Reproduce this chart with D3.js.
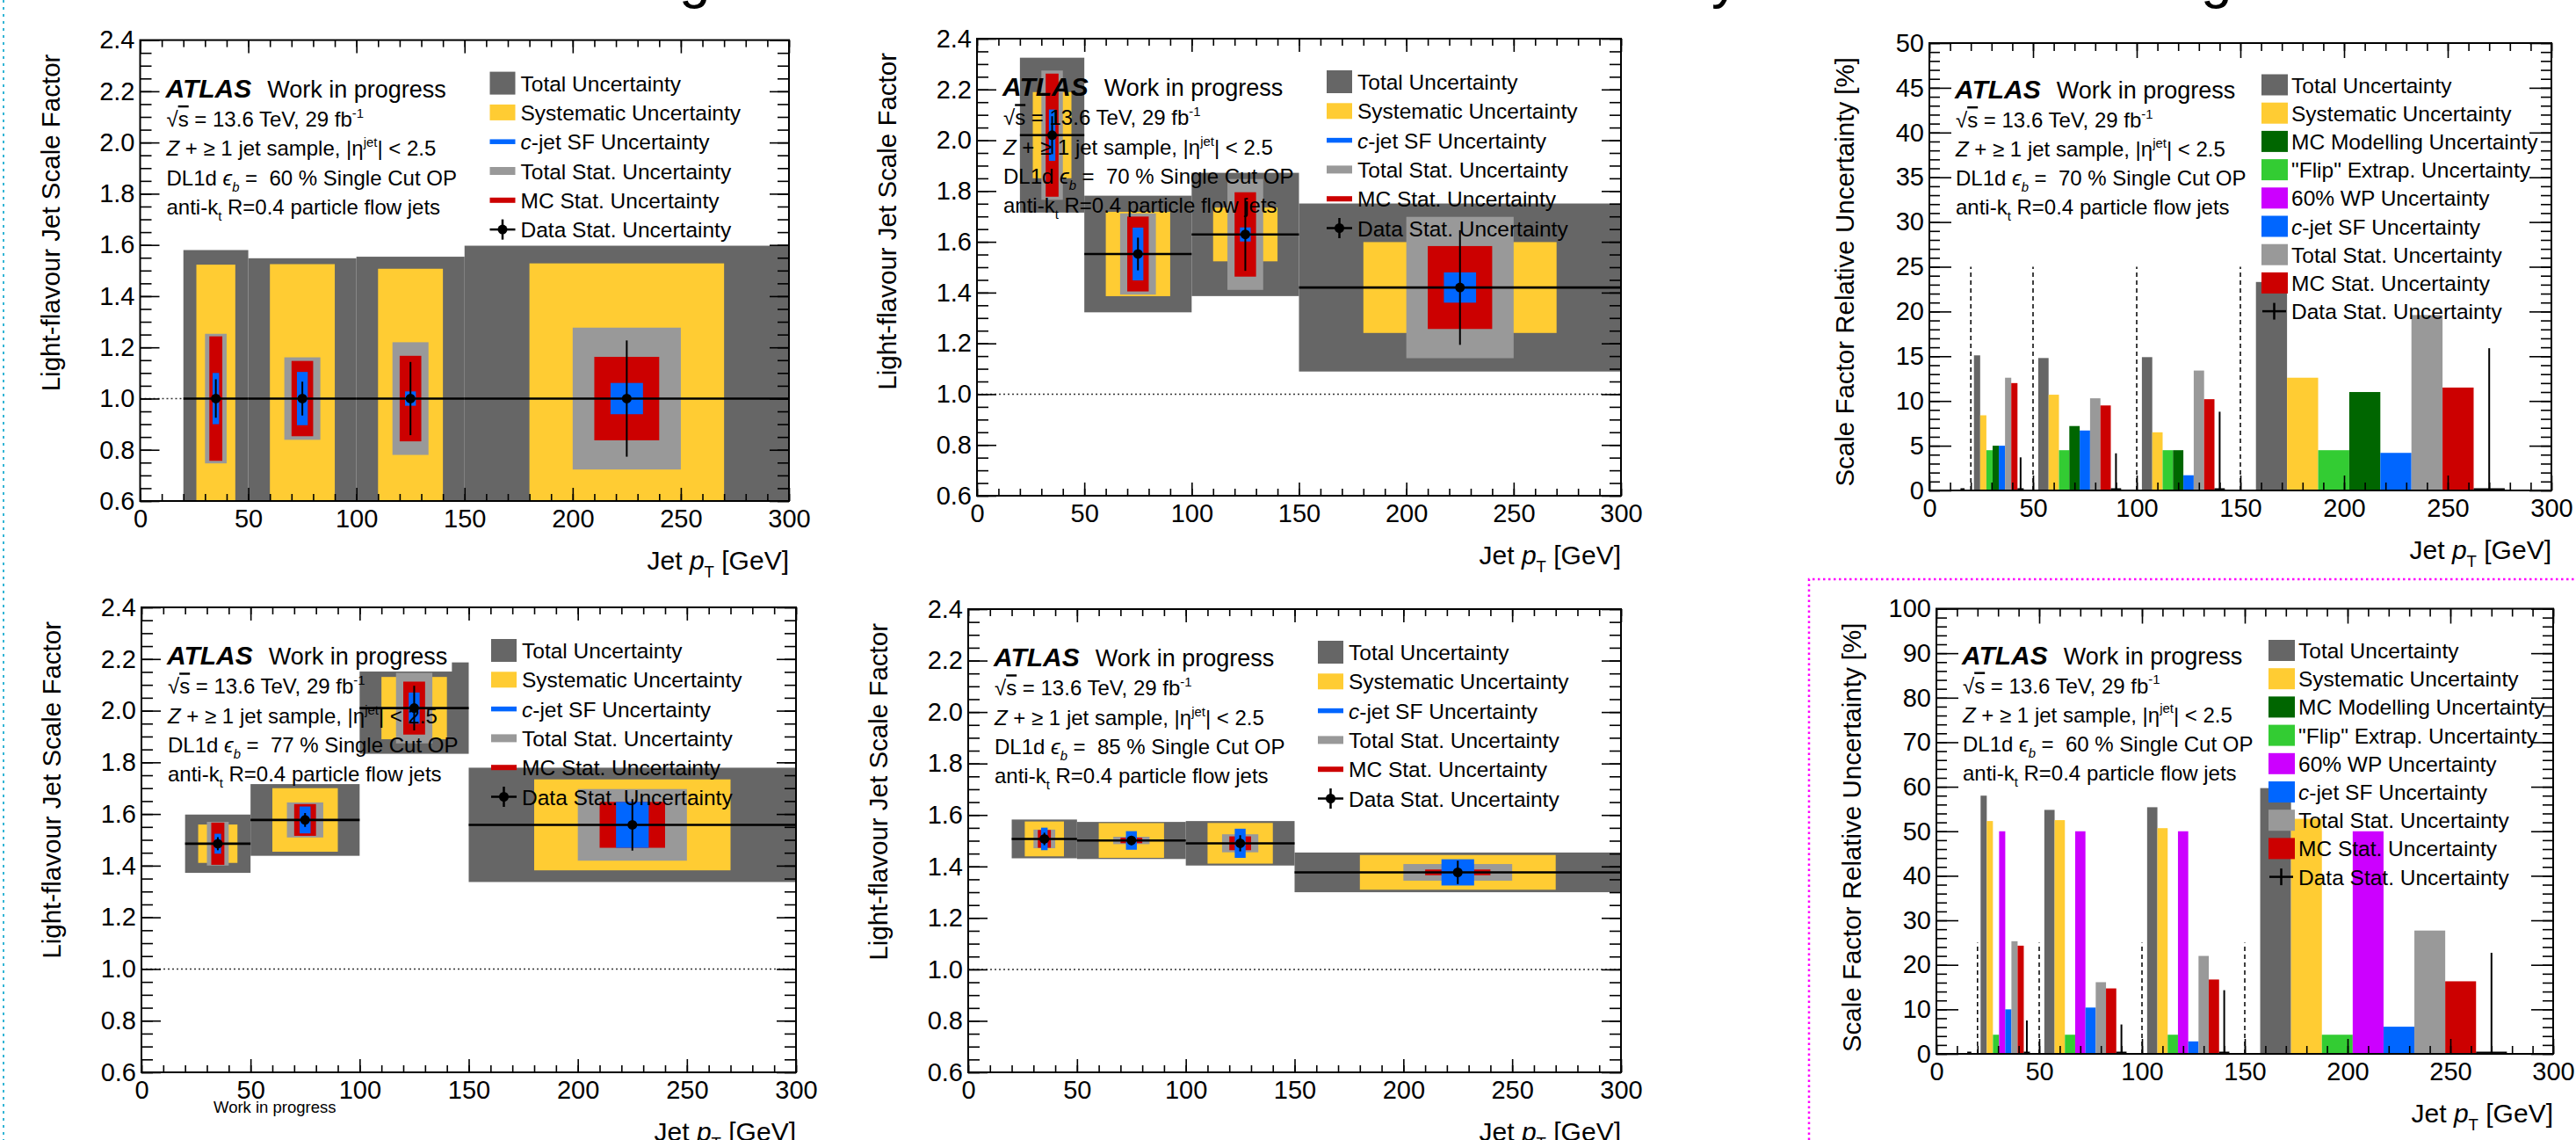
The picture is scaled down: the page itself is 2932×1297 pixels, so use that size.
<!DOCTYPE html>
<html>
<head>
<meta charset="utf-8">
<script src="https://cdn.jsdelivr.net/npm/d3@7"></script>
<style>
  html, body { margin: 0; padding: 0; background: #fff; }
  svg text { font-family: "Liberation Sans", Arial, Helvetica, sans-serif; fill: #000; }
</style>
</head>
<body>
<svg id="chart" width="2932" height="1297"></svg>
<script>
// jet pT bins [GeV]
const binEdges = [0, 20, 50, 100, 150, 300];

// light-flavour scale factors per b-tagging working point (first bin empty)
const sf60 = [null, 1.0, 1.0, 1.0, 1.0];
const sf70 = [null, 2.02, 1.552, 1.629, 1.42];
const sf77 = [null, 1.485, 1.577, 2.01, 1.558];
const sf85 = [null, 1.507, 1.501, 1.49, 1.377];

// relative uncertainties [%], 60% WP
const total60  = [0, 58.0, 54.8, 55.4, 59.7];
const syst60   = [0, 52.3, 52.5, 50.7, 52.8];
const model60  = [0, 0, 0, 0, 0];
const flip60   = [0, 4.3, 4.3, 4.3, 4.3];
const wpUnc60  = [0, 50.0, 50.0, 50.0, 50.0];
const cjet60   = [0, 10.0, 10.4, 2.8, 6.1];
const stat60   = [0, 25.3, 16.1, 22.0, 27.7];
const mcstat60 = [0, 24.3, 14.7, 16.7, 16.3];
const data60   = [0, 7.5, 6.6, 14.3, 22.7];

// relative uncertainties [%], 70% WP
const total70  = [0, 15.1, 14.8, 14.9, 23.3];
const syst70   = [0, 8.4, 10.7, 6.5, 12.6];
const model70  = [0, 5.0, 7.2, 4.5, 11.0];
const flip70   = [0, 4.5, 4.5, 4.5, 4.5];
const wpUnc70  = [0, 0, 0, 0, 0];
const cjet70   = [0, 5.0, 6.7, 1.7, 4.2];
const stat70   = [0, 12.6, 10.3, 13.4, 19.6];
const mcstat70 = [0, 12.0, 9.5, 10.2, 11.5];
const data70   = [0, 3.7, 4.15, 8.8, 15.9];

// relative uncertainties [%], 77% WP
const total77  = [0, 7.6, 8.8, 8.8, 14.2];
const syst77   = [0, 5.0, 7.8, 6.0, 11.3];
const cjet77   = [0, 2.6, 3.3, 3.0, 5.7];
const stat77   = [0, 5.7, 4.3, 6.8, 8.9];
const mcstat77 = [0, 5.5, 3.9, 5.1, 5.7];
const data77   = [0, 1.7, 1.7, 4.3, 6.4];

// relative uncertainties [%], 85% WP
const total85  = [0, 5.0, 4.8, 5.8, 5.6];
const syst85   = [0, 4.5, 4.5, 5.3, 4.9];
const cjet85   = [0, 2.9, 2.4, 3.8, 3.7];
const stat85   = [0, 2.4, 0.95, 2.35, 2.35];
const mcstat85 = [0, 2.3, 0.7, 1.8, 0.8];
const data85   = [0, 1.6, 1.2, 2.1, 3.3];

const xTicksMajor = [0, 50, 100, 150, 200, 250, 300];

const cTotal = "#666666", cSyst = "#ffcc33", cModel = "#006600", cFlip = "#33cc33",
      cWP = "#cc00ff", cCjet = "#0066ff", cStat = "#999999", cMC = "#cc0000";

const svg = d3.select("#chart");
svg.append("rect").attr("width", 2932).attr("height", 1297).attr("fill", "#fff");

// text with sub/superscripts
function rich(g, x, y, segs, size, anchor) {
  const t = g.append("text").attr("x", x).attr("y", y).attr("font-size", size)
    .attr("text-anchor", anchor || "start").style("white-space", "pre");
  let shift = 0;
  segs.forEach(s => {
    if (typeof s === "string") s = {t: s};
    let sh = 0, fs = size;
    if (s.sup) { sh = -0.42 * size; fs = 0.62 * size; }
    if (s.sub) { sh = 0.3 * size; fs = 0.62 * size; }
    const ts = t.append("tspan").text(s.t).attr("dy", sh - shift).attr("font-size", fs);
    shift = sh;
    if (s.i) ts.attr("font-style", "italic");
    if (s.over) ts.style("text-decoration", "overline");
  });
  return t;
}

function axes(g, p, x, y, yMajor, yMinor, fmt, tl) {
  const style = sel => {
    sel.attr("font-family", null).attr("font-size", 29);
    sel.selectAll("line").attr("stroke", "#000").attr("stroke-width", 1.6);
    sel.select(".domain").remove();
  };
  const xMinor = d3.range(0, 301, 10);
  g.append("g").attr("transform", `translate(0,${p.y1})`)
    .call(d3.axisBottom(x).tickValues(xMinor).tickSize(-tl.xm).tickFormat("")).call(style);
  g.append("g").attr("transform", `translate(0,${p.y1})`)
    .call(d3.axisBottom(x).tickValues(xTicksMajor).tickSize(-tl.xM).tickPadding(9)).call(style);
  g.append("g").attr("transform", `translate(0,${p.y0})`)
    .call(d3.axisTop(x).tickValues(xMinor).tickSize(-tl.xm).tickFormat("")).call(style);
  g.append("g").attr("transform", `translate(0,${p.y0})`)
    .call(d3.axisTop(x).tickValues(xTicksMajor).tickSize(-tl.xM).tickFormat("")).call(style);
  g.append("g").attr("transform", `translate(${p.x0},0)`)
    .call(d3.axisLeft(y).tickValues(yMinor).tickSize(-tl.ym).tickFormat("")).call(style);
  g.append("g").attr("transform", `translate(${p.x0},0)`)
    .call(d3.axisLeft(y).tickValues(yMajor).tickSize(-tl.yM).tickPadding(6).tickFormat(fmt)).call(style);
  g.append("g").attr("transform", `translate(${p.x1},0)`)
    .call(d3.axisRight(y).tickValues(yMinor).tickSize(-tl.ym).tickFormat("")).call(style);
  g.append("g").attr("transform", `translate(${p.x1},0)`)
    .call(d3.axisRight(y).tickValues(yMajor).tickSize(-tl.yM).tickFormat("")).call(style);
  g.append("rect").attr("x", p.x0).attr("y", p.y0).attr("width", p.x1 - p.x0).attr("height", p.y1 - p.y0)
    .attr("fill", "none").attr("stroke", "#000").attr("stroke-width", 2);
}

function infoText(g, p, wp, top, step) {
  const ax = p.x0 + 29, ay = p.y0 + top;
  const at = g.append("text").attr("x", ax).attr("y", ay).attr("font-size", 30)
    .attr("font-weight", "bold").attr("font-style", "italic").text("ATLAS");
  const wx = ax + at.node().getComputedTextLength() + 18;
  const patch = g.append("rect").attr("fill", "#fff");
  const wt = g.append("text").attr("x", wx).attr("y", ay).attr("font-size", 27).text("Work in progress");
  const ww = wt.node().getComputedTextLength();
  patch.attr("x", wx - 3).attr("y", ay - 27).attr("width", ww + 8).attr("height", 35);
  const lines = [
    ["√", {t: "s", over: true}, " = 13.6 TeV, 29 fb", {t: "-1", sup: true}],
    [{t: "Z", i: true}, " + ≥ 1 jet sample, |η", {t: "jet", sup: true}, "| < 2.5"],
    ["DL1d ", {t: "ϵ", i: true}, {t: "b", sub: true, i: true}, " =  " + wp + " % Single Cut OP"],
    ["anti-k", {t: "t", sub: true}, " R=0.4 particle flow jets"]
  ];
  lines.forEach((l, k) => rich(g, ax + 1, ay + step * (k + 1), l, 24));
}

function titles(g, p, yTitle, off) {
  rich(g, p.x1, p.y1 + 78, ["Jet ", {t: "p", i: true}, {t: "T", sub: true}, " [GeV]"], 30, "end");
  g.append("text").attr("transform", `translate(${p.x0 - off},${p.y0 + 16}) rotate(-90)`)
    .attr("text-anchor", "end").attr("font-size", 29.5).text(yTitle);
}

function drawSF(p) {
  const g = svg.append("g");
  const x = d3.scaleLinear().domain([0, 300]).range([p.x0, p.x1]);
  const y = d3.scaleLinear().domain([0.6, 2.4]).range([p.y1, p.y0]);
  svg.append("clipPath").attr("id", "clip" + p.id).append("rect")
    .attr("x", p.x0).attr("y", p.y0).attr("width", p.x1 - p.x0).attr("height", p.y1 - p.y0);
  const plot = g.append("g").attr("clip-path", `url(#clip${p.id})`);

  plot.append("line").attr("x1", x(0)).attr("x2", x(300)).attr("y1", y(1)).attr("y2", y(1))
    .attr("stroke", "#333").attr("stroke-width", 1.5).attr("stroke-dasharray", "2,3");

  const bins = d3.range(binEdges.length - 1).map(i => ({
    lo: binEdges[i], hi: binEdges[i + 1], sf: p.sf[i],
    total: p.rel.total[i], syst: p.rel.syst[i], stat: p.rel.stat[i],
    mcstat: p.rel.mcstat[i], cjet: p.rel.cjet[i], data: p.rel.data[i]
  })).filter(b => b.sf != null);

  const layers = [
    {key: "total", half: 0.5, color: cTotal},
    {key: "syst", half: 0.3, color: cSyst},
    {key: "stat", half: 1 / 6, color: cStat},
    {key: "mcstat", half: 0.1, color: cMC},
    {key: "cjet", half: 0.05, color: cCjet}
  ];
  layers.forEach(L => {
    plot.selectAll(null).data(bins).enter().append("rect")
      .attr("x", b => x((b.lo + b.hi) / 2 - L.half * (b.hi - b.lo)))
      .attr("width", b => x((b.lo + b.hi) / 2 + L.half * (b.hi - b.lo)) - x((b.lo + b.hi) / 2 - L.half * (b.hi - b.lo)))
      .attr("y", b => y(b.sf * (1 + b[L.key] / 100)))
      .attr("height", b => y(b.sf * (1 - b[L.key] / 100)) - y(b.sf * (1 + b[L.key] / 100)))
      .attr("fill", L.color);
  });
  // data points with stat. error
  plot.selectAll(null).data(bins).enter().append("line")
    .attr("x1", b => x(b.lo)).attr("x2", b => x(b.hi))
    .attr("y1", b => y(b.sf)).attr("y2", b => y(b.sf))
    .attr("stroke", "#000").attr("stroke-width", 2.6);
  plot.selectAll(null).data(bins).enter().append("line")
    .attr("x1", b => x((b.lo + b.hi) / 2)).attr("x2", b => x((b.lo + b.hi) / 2))
    .attr("y1", b => y(b.sf * (1 + b.data / 100))).attr("y2", b => y(b.sf * (1 - b.data / 100)))
    .attr("stroke", "#000").attr("stroke-width", 2);
  plot.selectAll(null).data(bins).enter().append("circle")
    .attr("cx", b => x((b.lo + b.hi) / 2)).attr("cy", b => y(b.sf)).attr("r", 5.5).attr("fill", "#000");

  axes(g, p, x, y, d3.range(0.6, 2.41, 0.2), d3.range(0.6, 2.41, 0.05), d3.format(".1f"),
       {xM: 15, xm: 8, yM: 22, ym: 13});
  infoText(g, p, p.wp, 65, 33.3);

  // legend
  const lx = p.x0 + 398, ly = p.y0 + 49, ls = 33.3;
  const entries = [
    {seg: ["Total Uncertainty"], c: cTotal, h: 26},
    {seg: ["Systematic Uncertainty"], c: cSyst, h: 18},
    {seg: [{t: "c", i: true}, "-jet SF Uncertainty"], c: cCjet, h: 5.5},
    {seg: ["Total Stat. Uncertainty"], c: cStat, h: 9},
    {seg: ["MC Stat. Uncertainty"], c: cMC, h: 6},
    {seg: ["Data Stat. Uncertainty"], c: null}
  ];
  entries.forEach((e, k) => {
    const cy = ly + k * ls;
    if (e.c) {
      g.append("rect").attr("x", lx).attr("y", cy - e.h / 2).attr("width", 29).attr("height", e.h).attr("fill", e.c);
    } else {
      g.append("line").attr("x1", lx).attr("x2", lx + 29).attr("y1", cy).attr("y2", cy).attr("stroke", "#000").attr("stroke-width", 2.5);
      g.append("line").attr("x1", lx + 14.5).attr("x2", lx + 14.5).attr("y1", cy - 11.5).attr("y2", cy + 11.5).attr("stroke", "#000").attr("stroke-width", 2.5);
      g.append("circle").attr("cx", lx + 14.5).attr("cy", cy).attr("r", 5.5).attr("fill", "#000");
    }
    rich(g, lx + 35, cy + 9, e.seg, 24.5);
  });
  titles(g, p, "Light-flavour Jet Scale Factor", 92);
}

function drawRel(p) {
  const g = svg.append("g");
  const x = d3.scaleLinear().domain([0, 300]).range([p.x0, p.x1]);
  const y = d3.scaleLinear().domain([0, p.yMax]).range([p.y1, p.y0]);

  // bin boundaries
  g.selectAll(null).data(binEdges.slice(0, -1)).enter().append("line")
    .attr("x1", d => x(d)).attr("x2", d => x(d)).attr("y1", y(0)).attr("y2", y(25))
    .attr("stroke", "#000").attr("stroke-width", 1.5).attr("stroke-dasharray", "5,4");

  const bins = d3.range(binEdges.length - 1).map(i => {
    const b = {lo: binEdges[i], hi: binEdges[i + 1]};
    Object.keys(p.rel).forEach(k => b[k] = p.rel[k][i]);
    return b;
  });
  const layers = [
    {key: "total", slot: 0, color: cTotal},
    {key: "syst", slot: 1, color: cSyst},
    {key: "flip", slot: 2, color: cFlip},
    {key: "model", slot: 3, color: cModel},
    {key: "wp", slot: 3, color: cWP},
    {key: "cjet", slot: 4, color: cCjet},
    {key: "stat", slot: 5, color: cStat},
    {key: "mcstat", slot: 6, color: cMC}
  ];
  layers.forEach(L => {
    g.selectAll(null).data(bins).enter().append("rect")
      .attr("x", b => x(b.lo + (b.hi - b.lo) * (0.05 + 0.1 * L.slot)))
      .attr("width", b => x(b.lo + (b.hi - b.lo) * (0.15 + 0.1 * L.slot)) - x(b.lo + (b.hi - b.lo) * (0.05 + 0.1 * L.slot)))
      .attr("y", b => y(b[L.key]))
      .attr("height", b => y(0) - y(b[L.key]))
      .attr("fill", L.color);
  });
  g.selectAll(null).data(bins).enter().append("line")
    .attr("x1", b => x(b.lo + 0.8 * (b.hi - b.lo))).attr("x2", b => x(b.lo + 0.8 * (b.hi - b.lo)))
    .attr("y1", y(0)).attr("y2", b => y(b.data))
    .attr("stroke", "#000").attr("stroke-width", 2);
  g.selectAll(null).data(bins).enter().append("line")
    .attr("x1", b => x(b.lo + 0.75 * (b.hi - b.lo))).attr("x2", b => x(b.lo + 0.85 * (b.hi - b.lo)))
    .attr("y1", y(0) - 1).attr("y2", y(0) - 1)
    .attr("stroke", "#000").attr("stroke-width", 3);

  axes(g, p, x, y, d3.range(0, p.yMax + 0.1, p.yStep), d3.range(0, p.yMax + 0.1, p.yStep / 5), d3.format("d"),
       {xM: 17, xm: 9, yM: 25, ym: 12});
  infoText(g, p, p.wp, 63, 33);

  const lx = p.x0 + 378, ly = p.y0 + 47.5, ls = 32.2;
  const entries = [
    {seg: ["Total Uncertainty"], c: cTotal},
    {seg: ["Systematic Uncertainty"], c: cSyst},
    {seg: ["MC Modelling Uncertainty"], c: cModel},
    {seg: ["\"Flip\" Extrap. Uncertainty"], c: cFlip},
    {seg: ["60% WP Uncertainty"], c: cWP},
    {seg: [{t: "c", i: true}, "-jet SF Uncertainty"], c: cCjet},
    {seg: ["Total Stat. Uncertainty"], c: cStat},
    {seg: ["MC Stat. Uncertainty"], c: cMC},
    {seg: ["Data Stat. Uncertainty"], c: null}
  ];
  entries.forEach((e, k) => {
    const cy = ly + k * ls;
    if (e.c) {
      g.append("rect").attr("x", lx).attr("y", cy - 12).attr("width", 30).attr("height", 24).attr("fill", e.c);
    } else {
      g.append("line").attr("x1", lx + 1).attr("x2", lx + 28).attr("y1", cy).attr("y2", cy).attr("stroke", "#000").attr("stroke-width", 2.5);
      g.append("line").attr("x1", lx + 14.5).attr("x2", lx + 14.5).attr("y1", cy - 9.5).attr("y2", cy + 9.5).attr("stroke", "#000").attr("stroke-width", 2.5);
    }
    rich(g, lx + 34, cy + 9, e.seg, 24.5);
  });
  titles(g, p, "Scale Factor Relative Uncertainty [%]", 86);
}

const rel60 = {total: total60, syst: syst60, model: model60, flip: flip60, wp: wpUnc60,
               cjet: cjet60, stat: stat60, mcstat: mcstat60, data: data60};
const rel70 = {total: total70, syst: syst70, model: model70, flip: flip70, wp: wpUnc70,
               cjet: cjet70, stat: stat70, mcstat: mcstat70, data: data70};
const rel77 = {total: total77, syst: syst77, cjet: cjet77, stat: stat77, mcstat: mcstat77, data: data77};
const rel85 = {total: total85, syst: syst85, cjet: cjet85, stat: stat85, mcstat: mcstat85, data: data85};

// slide decorations (cut-off title, frames)
svg.append("text").attr("y", -3).attr("font-size", 64)
  .selectAll("tspan").data([["g", 773], ["y", 1948], ["g", 2505]]).enter()
  .append("tspan").attr("x", d => d[1]).text(d => d[0]);
svg.append("line").attr("x1", 4).attr("x2", 4).attr("y1", 0).attr("y2", 1297)
  .attr("stroke", "#33b5d5").attr("stroke-width", 2).attr("stroke-dasharray", "3,5");
svg.append("path").attr("d", "M2059,1297V659H2932").attr("fill", "none")
  .attr("stroke", "#ff00ff").attr("stroke-width", 2.5).attr("stroke-dasharray", "2.5,3.5");

drawSF({id: 1, x0: 159.5, x1: 898, y0: 45.6, y1: 570, wp: "60", sf: sf60, rel: rel60});
drawSF({id: 2, x0: 1112, x1: 1845, y0: 44, y1: 564, wp: "70", sf: sf70, rel: rel70});
drawRel({id: 3, x0: 2196, x1: 2904, y0: 49, y1: 558, wp: "70", rel: rel70, yMax: 50, yStep: 5});
drawSF({id: 4, x0: 161, x1: 906, y0: 691, y1: 1220, wp: "77", sf: sf77, rel: rel77});
drawSF({id: 5, x0: 1102, x1: 1845, y0: 693, y1: 1220, wp: "85", sf: sf85, rel: rel85});
drawRel({id: 6, x0: 2204, x1: 2906, y0: 692.5, y1: 1199, wp: "60", rel: rel60, yMax: 100, yStep: 10});

svg.append("text").attr("x", 243).attr("y", 1266).attr("font-size", 18.5).text("Work in progress");
</script>
</body>
</html>
